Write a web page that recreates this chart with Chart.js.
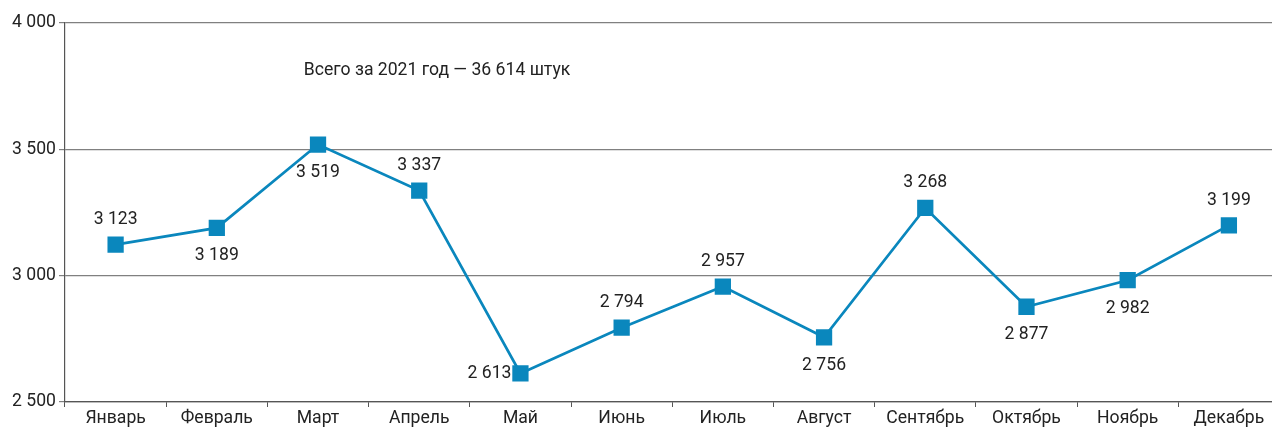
<!DOCTYPE html>
<html>
<head>
<meta charset="utf-8">
<script src="https://cdn.jsdelivr.net/npm/chart.js@4"></script>
<style>
  html, body { margin: 0; padding: 0; background: #fff; overflow: hidden; }
  #wrap { width: 1291px; height: 431px; }
</style>
</head>
<body>
<div id="wrap"><canvas id="c"></canvas></div>
<script>
const months = ['Январь', 'Февраль', 'Март', 'Апрель', 'Май', 'Июнь', 'Июль', 'Август', 'Сентябрь', 'Октябрь', 'Ноябрь', 'Декабрь'];
const values = [3123, 3189, 3519, 3337, 2613, 2794, 2957, 2756, 3268, 2877, 2982, 3199];
// where each value label sits relative to its point
const labelSide = ['top', 'bottom', 'bottom', 'top', 'left', 'top', 'top', 'bottom', 'top', 'bottom', 'bottom', 'top'];
const yTicks = [2500, 3000, 3500, 4000];
const note = 'Всего за 2021 год — 36 614 штук';

const FONT = 'Roboto, "Liberation Sans", sans-serif';
const fmt = v => String(v).replace(/\B(?=(\d{3})+(?!\d))/g, ' ');

const labelsPlugin = {
  id: 'valueLabels',
  afterDatasetsDraw(chart) {
    const ctx = chart.ctx;
    const meta = chart.getDatasetMeta(0);
    ctx.save();
    ctx.font = '17.6px ' + FONT;
    ctx.fillStyle = '#222';
    ctx.textBaseline = 'middle';
    meta.data.forEach((pt, i) => {
      const t = fmt(values[i]);
      const side = labelSide[i];
      if (side === 'top') {
        ctx.textAlign = 'center';
        ctx.fillText(t, pt.x, pt.y - 25);
      } else if (side === 'bottom') {
        ctx.textAlign = 'center';
        ctx.fillText(t, pt.x, pt.y + 28);
      } else {
        ctx.textAlign = 'right';
        ctx.fillText(t, pt.x - 9, pt.y);
      }
    });
    // total note
    const xs = chart.scales.x, ys = chart.scales.y;
    ctx.textAlign = 'left';
    ctx.fillText(note, xs.getPixelForValue(1.86), ys.getPixelForValue(3810));
    ctx.restore();
  }
};

new Chart(document.getElementById('c'), {
  type: 'line',
  data: {
    labels: months,
    datasets: [{
      data: values,
      borderColor: '#0a87bd',
      backgroundColor: '#0a87bd',
      borderWidth: 2.7,
      pointStyle: 'rect',
      pointRadius: 11.5,
      pointHoverRadius: 11.5,
      pointBorderWidth: 0,
      tension: 0
    }]
  },
  options: {
    responsive: true,
    maintainAspectRatio: false,
    animation: false,
    layout: { padding: { top: 23, right: 0, left: 0, bottom: 0 } },
    plugins: {
      legend: { display: false },
      tooltip: { enabled: false }
    },
    scales: {
      x: {
        offset: true,
        grid: {
          offset: true,
          drawOnChartArea: false,
          drawTicks: true,
          tickLength: 5,
          color: '#555'
        },
        border: { display: true, color: '#555', width: 1.2 },
        ticks: {
          color: '#222',
          font: { family: FONT, size: 17.6 },
          padding: 1,
          maxRotation: 0
        },
        afterFit(s) { s.height = 29; }
      },
      y: {
        min: 2500,
        max: 4000,
        afterBuildTicks(s) { s.ticks = yTicks.map(v => ({ value: v })); },
        grid: {
          color: '#808080',
          lineWidth: 1.2,
          drawTicks: true,
          tickLength: 6
        },
        border: { display: true, color: '#555', width: 1.2 },
        ticks: {
          color: '#222',
          font: { family: FONT, size: 17.6 },
          padding: 3,
          callback: v => fmt(v)
        },
        afterFit(s) { s.width = 65; }
      }
    }
  },
  plugins: [labelsPlugin]
});
</script>
</body>
</html>
